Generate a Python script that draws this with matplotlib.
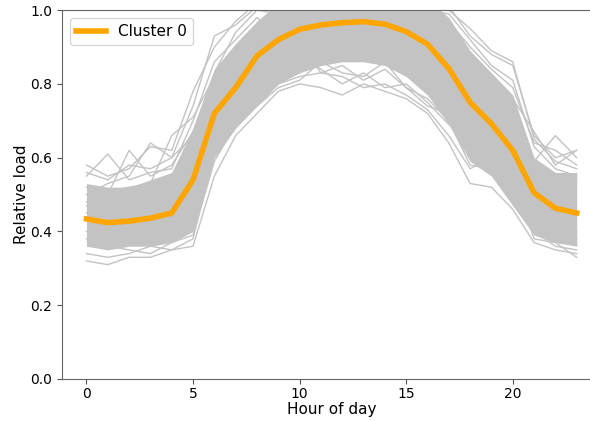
import matplotlib.pyplot as plt
import numpy as np

hours = list(range(24))

# cluster centroid (mean daily profile)
centroid = [0.434, 0.424, 0.428, 0.436, 0.450, 0.540, 0.720, 0.790, 0.876, 0.920,
            0.948, 0.960, 0.966, 0.969, 0.962, 0.942, 0.908, 0.842, 0.750, 0.692,
            0.620, 0.505, 0.463, 0.450]

# dense core of the member profiles
core_low = [0.36, 0.35, 0.36, 0.36, 0.37, 0.40, 0.60, 0.68, 0.74, 0.80,
            0.83, 0.85, 0.86, 0.86, 0.85, 0.82, 0.77, 0.69, 0.59, 0.55,
            0.47, 0.39, 0.37, 0.36]
core_high = [0.53, 0.52, 0.52, 0.54, 0.56, 0.68, 0.84, 0.91, 0.97, 1.02,
             1.05, 1.05, 1.05, 1.05, 1.05, 1.05, 1.03, 0.98, 0.89, 0.83,
             0.77, 0.60, 0.56, 0.56]

# individual member profiles at the edges of the cluster
members = [
    [0.58, 0.55, 0.57, 0.63, 0.62, 0.78, 0.90, 0.97, 1.02, 1.03, 1.04, 1.03, 1.04, 1.05, 1.04, 1.03, 1.02, 1.01, 0.93, 0.88, 0.85, 0.66, 0.60, 0.62],
    [0.32, 0.31, 0.33, 0.33, 0.35, 0.36, 0.55, 0.66, 0.72, 0.78, 0.80, 0.79, 0.77, 0.80, 0.78, 0.76, 0.72, 0.64, 0.53, 0.52, 0.46, 0.37, 0.35, 0.34],
    [0.55, 0.61, 0.54, 0.56, 0.57, 0.70, 0.86, 0.92, 0.98, 0.93, 0.88, 0.84, 0.80, 0.83, 0.79, 0.80, 0.75, 0.69, 0.65, 0.63, 0.56, 0.44, 0.41, 0.40],
    [0.52, 0.50, 0.62, 0.55, 0.58, 0.67, 0.83, 0.94, 1.00, 0.99, 0.91, 0.83, 0.85, 0.81, 0.84, 0.79, 0.74, 0.72, 0.60, 0.57, 0.52, 0.41, 0.38, 0.37],
    [0.50, 0.53, 0.55, 0.64, 0.60, 0.66, 0.80, 0.87, 0.93, 0.97, 0.99, 1.01, 1.02, 1.03, 1.02, 1.01, 1.00, 0.99, 0.92, 0.85, 0.81, 0.63, 0.57, 0.55],
    [0.48, 0.51, 0.52, 0.53, 0.66, 0.71, 0.82, 0.88, 0.94, 0.96, 0.98, 0.99, 1.00, 1.01, 1.00, 0.99, 0.98, 0.97, 0.90, 0.84, 0.79, 0.64, 0.62, 0.58],
    [0.34, 0.33, 0.34, 0.36, 0.35, 0.38, 0.62, 0.70, 0.75, 0.80, 0.82, 0.83, 0.82, 0.79, 0.80, 0.77, 0.73, 0.66, 0.57, 0.60, 0.50, 0.40, 0.36, 0.35],
    [0.38, 0.36, 0.35, 0.34, 0.37, 0.39, 0.59, 0.69, 0.74, 0.79, 0.81, 0.86, 0.83, 0.82, 0.86, 0.79, 0.76, 0.70, 0.58, 0.57, 0.55, 0.38, 0.37, 0.33],
    [0.45, 0.47, 0.48, 0.49, 0.51, 0.62, 0.78, 0.85, 0.90, 0.94, 0.96, 0.97, 0.98, 0.98, 0.97, 0.96, 0.95, 0.93, 0.86, 0.80, 0.74, 0.59, 0.66, 0.60],
    [0.47, 0.46, 0.47, 0.48, 0.50, 0.58, 0.76, 0.84, 0.90, 0.95, 0.97, 0.99, 1.00, 1.00, 0.99, 0.98, 0.96, 0.94, 0.87, 0.81, 0.76, 0.67, 0.58, 0.62],
    [0.56, 0.54, 0.58, 0.57, 0.60, 0.74, 0.93, 0.96, 1.01, 1.02, 1.03, 1.04, 1.03, 1.04, 1.03, 1.02, 1.03, 1.00, 0.95, 0.89, 0.86, 0.65, 0.59, 0.57],
    [0.40, 0.38, 0.37, 0.39, 0.40, 0.45, 0.66, 0.73, 0.79, 0.84, 0.87, 0.88, 0.89, 0.88, 0.87, 0.85, 0.81, 0.74, 0.62, 0.58, 0.50, 0.42, 0.38, 0.38],
]

fig = plt.figure(figsize=(5.9, 4.21), dpi=100)
ax = fig.add_axes([0.105, 0.0998, 0.914, 0.876])

grey = '#c3c3c3'
ax.fill_between(hours, core_low, core_high, color=grey, lw=0, zorder=1)
for m in members:
    ax.plot(hours, m, color=grey, lw=1.0, zorder=1)

ax.plot(hours, centroid, color='orange', lw=4, label='Cluster 0', zorder=3)

ax.set_ylim(0, 1.0)
ax.set_xlim(-1.15, 24.15)
ax.set_xticks([0, 5, 10, 15, 20])
ax.set_yticks([0.0, 0.2, 0.4, 0.6, 0.8, 1.0])
ax.set_xlabel('Hour of day', fontsize=11, labelpad=1)
ax.set_ylabel('Relative load', fontsize=11, labelpad=1)
ax.tick_params(labelsize=10, color='#555555')
ax.tick_params(axis='x', pad=2)
for s in ax.spines.values():
    s.set_color('#666666')
ax.legend(loc='upper left', fontsize=11)

fig.savefig('out.png', dpi=100)
